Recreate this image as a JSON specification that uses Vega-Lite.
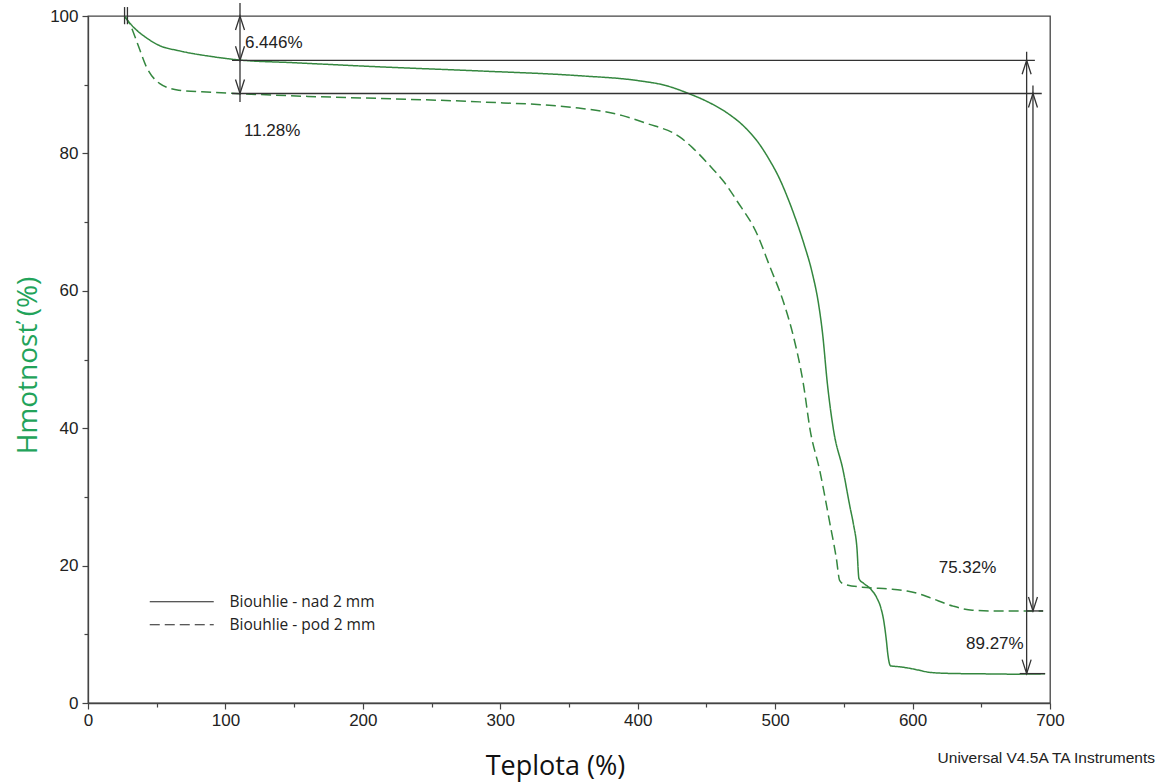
{
  "$schema": "https://vega.github.io/schema/vega-lite/v6.json",
  "width": 962,
  "height": 687,
  "autosize": "none",
  "padding": {"left": 88, "top": 16, "right": 111, "bottom": 79},
  "background": "white",
  "config": {
    "view": {"stroke": "#444", "strokeWidth": 1.3},
    "font": "Liberation Sans"
  },
  "layer": [
    {
      "data": {"values": [
        {"series": "Biouhlie - nad 2 mm", "T": 26.5, "m": 100},
        {"series": "Biouhlie - nad 2 mm", "T": 29, "m": 99.3},
        {"series": "Biouhlie - nad 2 mm", "T": 34, "m": 98.2},
        {"series": "Biouhlie - nad 2 mm", "T": 42, "m": 96.9},
        {"series": "Biouhlie - nad 2 mm", "T": 52, "m": 95.7},
        {"series": "Biouhlie - nad 2 mm", "T": 66, "m": 94.95},
        {"series": "Biouhlie - nad 2 mm", "T": 90, "m": 94.1},
        {"series": "Biouhlie - nad 2 mm", "T": 110, "m": 93.6},
        {"series": "Biouhlie - nad 2 mm", "T": 150, "m": 93.2},
        {"series": "Biouhlie - nad 2 mm", "T": 212, "m": 92.6},
        {"series": "Biouhlie - nad 2 mm", "T": 285, "m": 92.0},
        {"series": "Biouhlie - nad 2 mm", "T": 358, "m": 91.3},
        {"series": "Biouhlie - nad 2 mm", "T": 400, "m": 90.6},
        {"series": "Biouhlie - nad 2 mm", "T": 420, "m": 89.9},
        {"series": "Biouhlie - nad 2 mm", "T": 436, "m": 88.8},
        {"series": "Biouhlie - nad 2 mm", "T": 450, "m": 87.6},
        {"series": "Biouhlie - nad 2 mm", "T": 465, "m": 85.9},
        {"series": "Biouhlie - nad 2 mm", "T": 478, "m": 83.8},
        {"series": "Biouhlie - nad 2 mm", "T": 488, "m": 81.5},
        {"series": "Biouhlie - nad 2 mm", "T": 496, "m": 79.0},
        {"series": "Biouhlie - nad 2 mm", "T": 503, "m": 76.4},
        {"series": "Biouhlie - nad 2 mm", "T": 509, "m": 73.6},
        {"series": "Biouhlie - nad 2 mm", "T": 515, "m": 70.4},
        {"series": "Biouhlie - nad 2 mm", "T": 521, "m": 66.8},
        {"series": "Biouhlie - nad 2 mm", "T": 527, "m": 62.6},
        {"series": "Biouhlie - nad 2 mm", "T": 531.5, "m": 58.2},
        {"series": "Biouhlie - nad 2 mm", "T": 534.5, "m": 53.8},
        {"series": "Biouhlie - nad 2 mm", "T": 538, "m": 46.5},
        {"series": "Biouhlie - nad 2 mm", "T": 542.5, "m": 39.7},
        {"series": "Biouhlie - nad 2 mm", "T": 549.5, "m": 33.8},
        {"series": "Biouhlie - nad 2 mm", "T": 554.5, "m": 28.5},
        {"series": "Biouhlie - nad 2 mm", "T": 557, "m": 26.0},
        {"series": "Biouhlie - nad 2 mm", "T": 559.5, "m": 22.6},
        {"series": "Biouhlie - nad 2 mm", "T": 561, "m": 18.1},
        {"series": "Biouhlie - nad 2 mm", "T": 564.5, "m": 17.4},
        {"series": "Biouhlie - nad 2 mm", "T": 569.5, "m": 16.6},
        {"series": "Biouhlie - nad 2 mm", "T": 574, "m": 15.3},
        {"series": "Biouhlie - nad 2 mm", "T": 577, "m": 13.8},
        {"series": "Biouhlie - nad 2 mm", "T": 579, "m": 12.0},
        {"series": "Biouhlie - nad 2 mm", "T": 581, "m": 9.0},
        {"series": "Biouhlie - nad 2 mm", "T": 582, "m": 7.1},
        {"series": "Biouhlie - nad 2 mm", "T": 584, "m": 5.4},
        {"series": "Biouhlie - nad 2 mm", "T": 589, "m": 5.3},
        {"series": "Biouhlie - nad 2 mm", "T": 596.5, "m": 5.1},
        {"series": "Biouhlie - nad 2 mm", "T": 604, "m": 4.8},
        {"series": "Biouhlie - nad 2 mm", "T": 613, "m": 4.45},
        {"series": "Biouhlie - nad 2 mm", "T": 628, "m": 4.3},
        {"series": "Biouhlie - nad 2 mm", "T": 649, "m": 4.25},
        {"series": "Biouhlie - nad 2 mm", "T": 673, "m": 4.2},
        {"series": "Biouhlie - nad 2 mm", "T": 696.5, "m": 4.25},
        {"series": "Biouhlie - pod 2 mm", "T": 26.5, "m": 100},
        {"series": "Biouhlie - pod 2 mm", "T": 30, "m": 99.0},
        {"series": "Biouhlie - pod 2 mm", "T": 36, "m": 96.0},
        {"series": "Biouhlie - pod 2 mm", "T": 42.5, "m": 92.6},
        {"series": "Biouhlie - pod 2 mm", "T": 52, "m": 90.2},
        {"series": "Biouhlie - pod 2 mm", "T": 66, "m": 89.2},
        {"series": "Biouhlie - pod 2 mm", "T": 90, "m": 88.9},
        {"series": "Biouhlie - pod 2 mm", "T": 110, "m": 88.7},
        {"series": "Biouhlie - pod 2 mm", "T": 160, "m": 88.3},
        {"series": "Biouhlie - pod 2 mm", "T": 212, "m": 88.0},
        {"series": "Biouhlie - pod 2 mm", "T": 285, "m": 87.5},
        {"series": "Biouhlie - pod 2 mm", "T": 357, "m": 86.6},
        {"series": "Biouhlie - pod 2 mm", "T": 389, "m": 85.5},
        {"series": "Biouhlie - pod 2 mm", "T": 406, "m": 84.4},
        {"series": "Biouhlie - pod 2 mm", "T": 430.5, "m": 82.4},
        {"series": "Biouhlie - pod 2 mm", "T": 440, "m": 80.8},
        {"series": "Biouhlie - pod 2 mm", "T": 453, "m": 78.1},
        {"series": "Biouhlie - pod 2 mm", "T": 463, "m": 75.8},
        {"series": "Biouhlie - pod 2 mm", "T": 472.5, "m": 73.0},
        {"series": "Biouhlie - pod 2 mm", "T": 487, "m": 68.2},
        {"series": "Biouhlie - pod 2 mm", "T": 496, "m": 63.6},
        {"series": "Biouhlie - pod 2 mm", "T": 506, "m": 58.4},
        {"series": "Biouhlie - pod 2 mm", "T": 513, "m": 53.6},
        {"series": "Biouhlie - pod 2 mm", "T": 520.5, "m": 46.5},
        {"series": "Biouhlie - pod 2 mm", "T": 525.5, "m": 39.7},
        {"series": "Biouhlie - pod 2 mm", "T": 532.5, "m": 33.8},
        {"series": "Biouhlie - pod 2 mm", "T": 539.5, "m": 26.5},
        {"series": "Biouhlie - pod 2 mm", "T": 544.5, "m": 21.1},
        {"series": "Biouhlie - pod 2 mm", "T": 547, "m": 17.8},
        {"series": "Biouhlie - pod 2 mm", "T": 550, "m": 17.3},
        {"series": "Biouhlie - pod 2 mm", "T": 566.5, "m": 16.8},
        {"series": "Biouhlie - pod 2 mm", "T": 583.5, "m": 16.6},
        {"series": "Biouhlie - pod 2 mm", "T": 596, "m": 16.3},
        {"series": "Biouhlie - pod 2 mm", "T": 604.5, "m": 15.9},
        {"series": "Biouhlie - pod 2 mm", "T": 613, "m": 15.3},
        {"series": "Biouhlie - pod 2 mm", "T": 629.5, "m": 14.1},
        {"series": "Biouhlie - pod 2 mm", "T": 643.5, "m": 13.5},
        {"series": "Biouhlie - pod 2 mm", "T": 658, "m": 13.4},
        {"series": "Biouhlie - pod 2 mm", "T": 695, "m": 13.4}
      ]},
      "mark": {"type": "line", "color": "#34873f", "strokeWidth": 1.5, "clip": true, "interpolate": "monotone"},
      "encoding": {
        "x": {
          "field": "T", "type": "quantitative",
          "scale": {"domain": [0, 700], "nice": false, "zero": false},
          "axis": {
            "title": "Teplota (%)",
            "values": [0,25,50,75,100,125,150,175,200,225,250,275,300,325,350,375,400,425,450,475,500,525,550,575,600,625,650,675,700],
            "labelExpr": "datum.value % 100 === 0 ? datum.label : ''",
            "tickSize": {"condition": {"test": "datum.value % 100 === 0", "value": 6}, "value": 4},
            "grid": false,
            "domainColor": "#444", "domainWidth": 1.3,
            "tickColor": "#444", "tickWidth": 1.2,
            "labelFont": "Liberation Sans", "labelFontSize": 17, "labelColor": "#222",
            "labelPadding": 3, "labelFlush": false, "labelOverlap": false,
            "titleFont": "Open Sans", "titleFontSize": 27, "titleFontWeight": "normal", "titleColor": "#111",
            "titleX": 467, "titleY": 71, "titleAnchor": null, "titleAlign": "center", "titleBaseline": "alphabetic"
          }
        },
        "y": {
          "field": "m", "type": "quantitative",
          "scale": {"domain": [0, 100], "nice": false, "zero": false},
          "axis": {
            "title": "Hmotnosť (%)",
            "values": [0,5,10,15,20,25,30,35,40,45,50,55,60,65,70,75,80,85,90,95,100],
            "labelExpr": "datum.value % 20 === 0 ? datum.label : ''",
            "tickSize": {"condition": {"test": "datum.value % 20 === 0", "value": 6}, "value": 4},
            "grid": false,
            "domainColor": "#444", "domainWidth": 1.3,
            "tickColor": "#444", "tickWidth": 1.2,
            "labelFont": "Liberation Sans", "labelFontSize": 17, "labelColor": "#222",
            "labelPadding": 4, "labelFlush": false, "labelOverlap": false,
            "titleFont": "Open Sans", "titleFontSize": 28, "titleFontWeight": "normal", "titleColor": "#22a35a",
            "titleX": -52, "titleY": 349, "titleAngle": -90, "titleAlign": "center", "titleBaseline": "alphabetic"
          }
        },
        "strokeDash": {
          "field": "series", "type": "nominal",
          "scale": {"domain": ["Biouhlie - nad 2 mm", "Biouhlie - pod 2 mm"], "range": [[1, 0], [10, 5]]},
          "legend": {
            "title": null,
            "orient": "none",
            "legendX": 86,
            "legendY": 578,
            "padding": 0,
            "symbolType": "M -32 0 L 32 0",
            "symbolSize": 4,
            "symbolStrokeColor": "#222",
            "symbolStrokeWidth": 1.2,
            "symbolFillColor": "transparent",
            "labelFont": "Open Sans",
            "labelFontSize": 15.5,
            "labelColor": "#222",
            "labelOffset": 40,
            "rowPadding": 6
          }
        }
      }
    },
    {
      "data": {"values": [
        {"T": 26.6, "T2": 26.6, "m": 98.8, "m2": 101.3},
        {"T": 28.7, "T2": 28.7, "m": 98.8, "m2": 101.3},
        {"T": 110.6, "T2": 110.6, "m": 87.5, "m2": 101.9},
        {"T": 104.8, "T2": 689, "m": 93.554, "m2": 93.554},
        {"T": 104.8, "T2": 694, "m": 88.72, "m2": 88.72},
        {"T": 683, "T2": 683, "m": 4.28, "m2": 94.8},
        {"T": 687.6, "T2": 687.6, "m": 13.4, "m2": 89.9},
        {"T": 683.3, "T2": 695, "m": 13.4, "m2": 13.4},
        {"T": 678, "T2": 696.4, "m": 4.28, "m2": 4.28}
      ]},
      "mark": {"type": "rule", "color": "#333", "strokeWidth": 1.3},
      "encoding": {
        "x": {"field": "T", "type": "quantitative"},
        "x2": {"field": "T2"},
        "y": {"field": "m", "type": "quantitative"},
        "y2": {"field": "m2"}
      }
    },
    {
      "data": {"values": [
        {"T": 110.6, "m": 100},
        {"T": 683, "m": 93.554},
        {"T": 687.6, "m": 88.72}
      ]},
      "mark": {"type": "point", "shape": "M -4.5 14 L 0 0 L 4.5 14", "size": 4, "filled": false, "stroke": "#333", "strokeWidth": 1.3, "opacity": 1},
      "encoding": {
        "x": {"field": "T", "type": "quantitative"},
        "y": {"field": "m", "type": "quantitative"}
      }
    },
    {
      "data": {"values": [
        {"T": 110.6, "m": 93.554},
        {"T": 110.6, "m": 88.72},
        {"T": 683, "m": 4.28},
        {"T": 687.6, "m": 13.4}
      ]},
      "mark": {"type": "point", "shape": "M -4.5 -14 L 0 0 L 4.5 -14", "size": 4, "filled": false, "stroke": "#333", "strokeWidth": 1.3, "opacity": 1},
      "encoding": {
        "x": {"field": "T", "type": "quantitative"},
        "y": {"field": "m", "type": "quantitative"}
      }
    },
    {
      "data": {"values": [
        {"label": "6.446%", "T": 114.2, "m": 96.1},
        {"label": "11.28%", "T": 113.5, "m": 83.2},
        {"label": "75.32%", "T": 619, "m": 19.7},
        {"label": "89.27%", "T": 638.9, "m": 8.6}
      ]},
      "mark": {"type": "text", "align": "left", "baseline": "middle", "font": "Liberation Sans", "fontSize": 17, "color": "#222"},
      "encoding": {
        "x": {"field": "T", "type": "quantitative"},
        "y": {"field": "m", "type": "quantitative"},
        "text": {"field": "label"}
      }
    },
    {
      "data": {"values": [
        {"label": "Universal V4.5A TA Instruments", "T": 776.4, "m": -8.0}
      ]},
      "mark": {"type": "text", "align": "right", "baseline": "middle", "font": "Liberation Sans", "fontSize": 15.5, "color": "#222", "clip": false},
      "encoding": {
        "x": {"field": "T", "type": "quantitative"},
        "y": {"field": "m", "type": "quantitative"},
        "text": {"field": "label"}
      }
    }
  ]
}
